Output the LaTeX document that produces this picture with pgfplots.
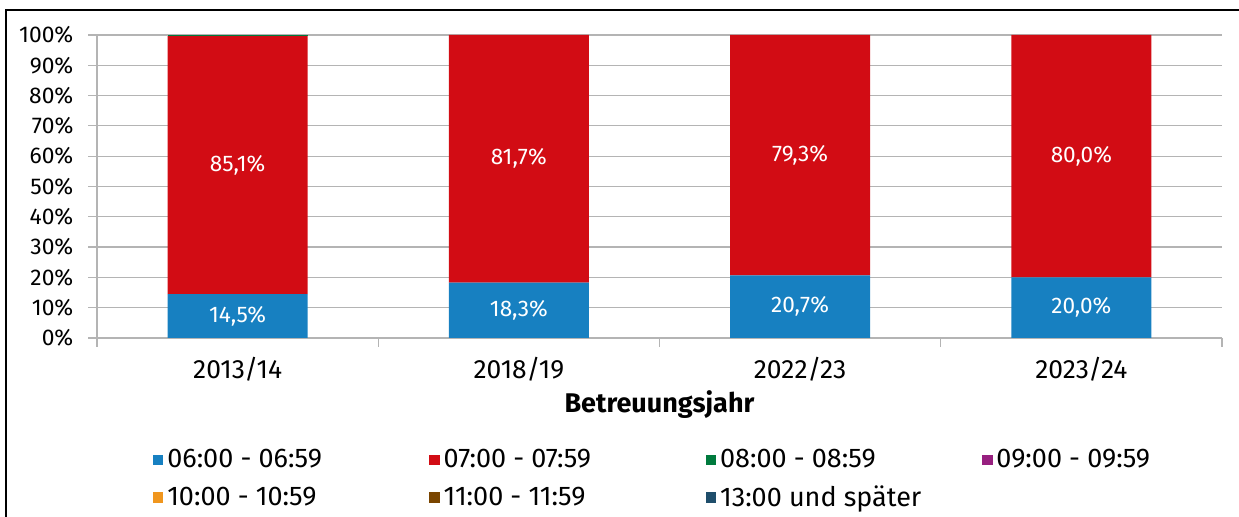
\documentclass[border=0pt]{standalone}
\usepackage{pgfplots}
\pgfplotsset{compat=1.18}
\usepackage{fontspec}
\setmainfont{Fira Sans}
\definecolor{cA}{HTML}{1780C1}
\definecolor{cB}{HTML}{D20C14}
\definecolor{cC}{HTML}{007A3D}
\definecolor{cD}{HTML}{97207F}
\definecolor{cE}{HTML}{F0961E}
\definecolor{cF}{HTML}{7A4500}
\definecolor{cG}{HTML}{1F4E6B}
\definecolor{gridc}{HTML}{B4B4B4}
\pgfplotsset{sq/.style={legend image code/.code={\fill[##1] (0pt,-2.6pt) rectangle (5.2pt,2.6pt);}}}
\begin{document}
\begin{tikzpicture}
\useasboundingbox (0,0) rectangle (619.5pt,258.5pt);
\draw[black, line width=0.9pt] (3pt,0pt) -- (3pt,253.5pt) -- (619.5pt,253.5pt);
\begin{axis}[
  at={(48.5pt,89.5pt)}, anchor=south west,
  scale only axis, width=562.5pt, height=151.5pt,
  ybar stacked, bar width=70pt,
  xmin=-0.5, xmax=3.5, ymin=0, ymax=100,
  xtick={-0.5,0.5,1.5,2.5,3.5},
  xticklabels={2013/14,2018/19,2022/23,2023/24},
  x tick label as interval,
  ytick={0,10,...,100},
  yticklabels={0\%,10\%,20\%,30\%,40\%,50\%,60\%,70\%,80\%,90\%,100\%},
  ymajorgrids, grid style={gridc, line width=0.6pt},
  axis x line*=bottom, axis y line*=left,
  axis line style={gridc, line width=0.6pt, -},
  tick style={gridc, line width=0.6pt},
  tick align=outside, major tick length=4.3pt,
  yticklabel style={font=\fontsize{11.4}{13}\selectfont, black, xshift=-4pt},
  xticklabel style={font=\fontsize{13.2}{15}\selectfont, black, yshift=-2pt},
  xlabel={\textbf{Betreuungsjahr}},
  xlabel style={font=\fontsize{13.5}{15}\selectfont, at={(axis description cs:0.5,0)}, anchor=center, yshift=-33.5pt},
  point meta=explicit symbolic,
  every node near coord/.style={anchor=center, text=white, font=\fontsize{11.3}{13}\selectfont},
  legend columns=4,
  legend cell align=left,
  legend style={draw=none, fill=none, at={(axis description cs:0.044,-0.340)}, anchor=north west,
    font=\fontsize{13.5}{15}\selectfont, column sep=0pt, row sep=3.5pt},
]
\addplot[fill=cA, draw=none, sq, nodes near coords]
  coordinates {(0,14.5) [14,5\%] (1,18.3) [18,3\%] (2,20.7) [20,7\%] (3,20.0) [20,0\%]};
\addlegendentry{\makebox[129pt][l]{06:00 - 06:59}}
\addplot[fill=cB, draw=none, sq, nodes near coords]
  coordinates {(0,85.1) [85,1\%] (1,81.7) [81,7\%] (2,79.3) [79,3\%] (3,80.0) [80,0\%]};
\addlegendentry{\makebox[129pt][l]{07:00 - 07:59}}
\addplot[fill=cC, draw=none, sq]
  coordinates {(0,0.4) [] (1,0) [] (2,0) [] (3,0) []};
\addlegendentry{\makebox[129pt][l]{08:00 - 08:59}}
\addlegendimage{fill=cD, draw=none, sq}
\addlegendentry{\makebox[129pt][l]{09:00 - 09:59}}
\addlegendimage{fill=cE, draw=none, sq}
\addlegendentry{\makebox[129pt][l]{10:00 - 10:59}}
\addlegendimage{fill=cF, draw=none, sq}
\addlegendentry{\makebox[129pt][l]{11:00 - 11:59}}
\addlegendimage{fill=cG, draw=none, sq}
\addlegendentry{\makebox[129pt][l]{13:00 und später}}
\end{axis}
\end{tikzpicture}
\end{document}
